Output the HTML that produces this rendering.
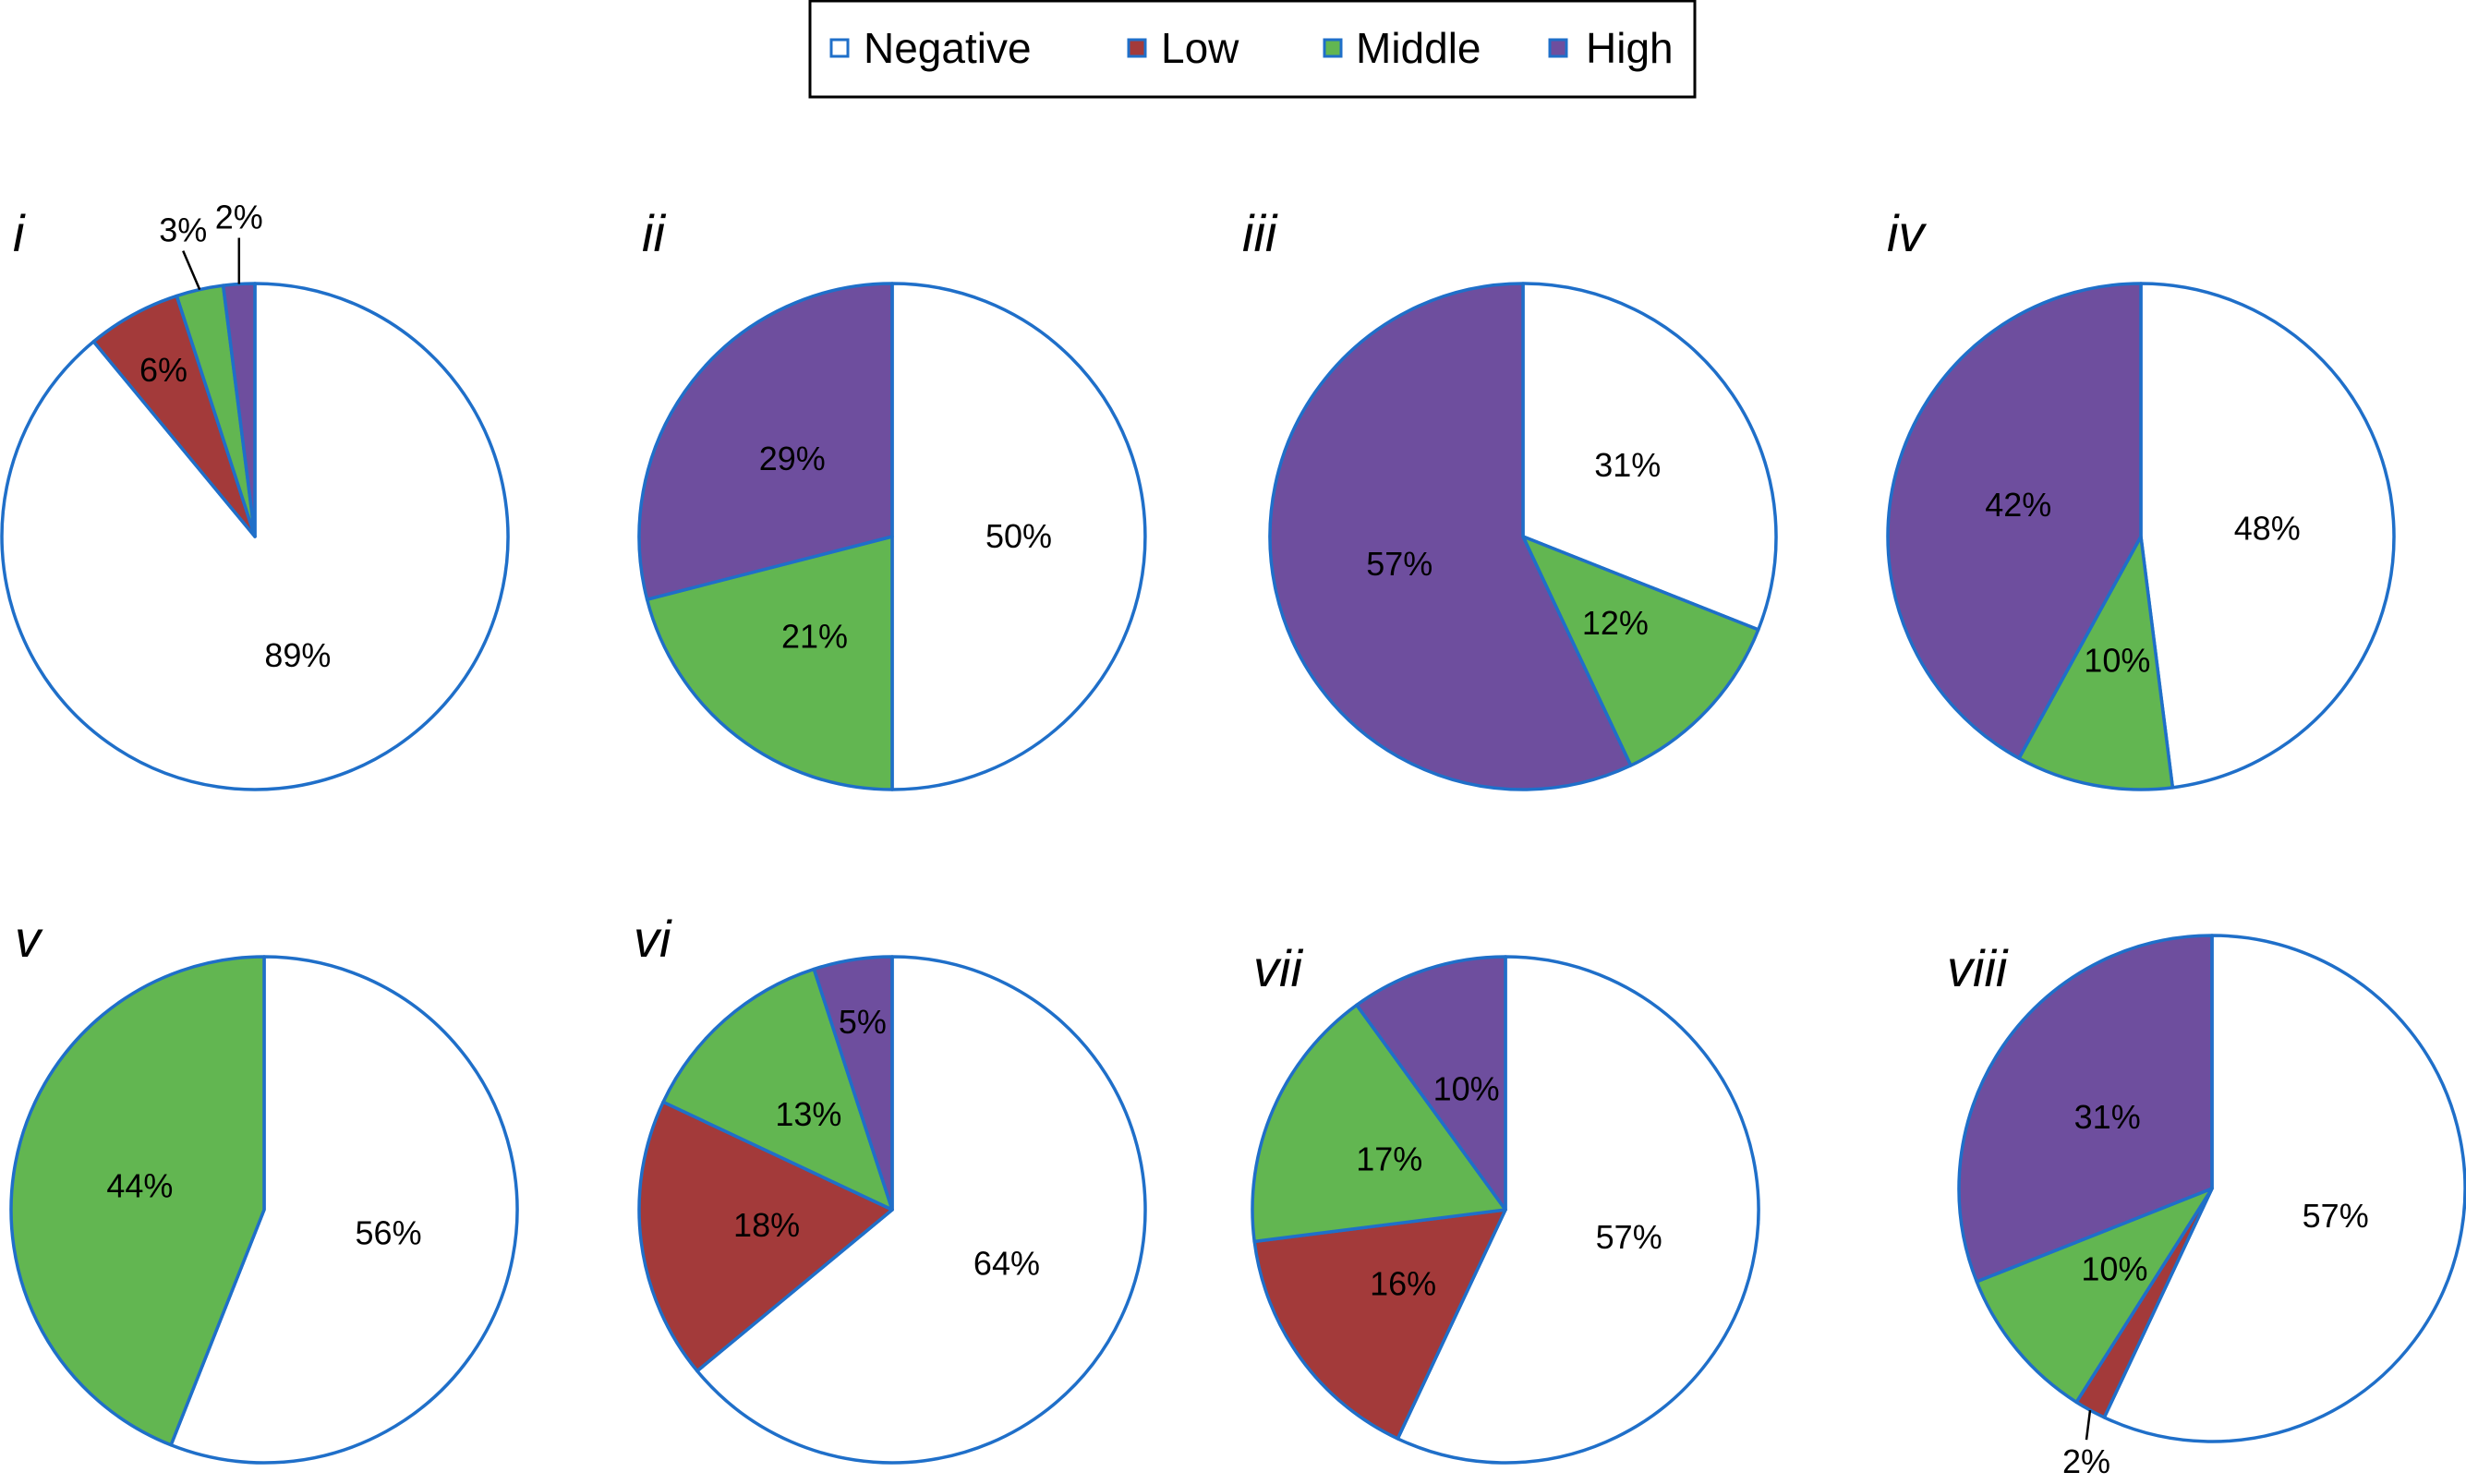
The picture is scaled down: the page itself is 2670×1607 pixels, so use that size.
<!DOCTYPE html>
<html><head><meta charset="utf-8"><style>
html,body{margin:0;padding:0;background:#fff;}
svg{display:block;font-family:"Liberation Sans",Arial,sans-serif;}
</style></head><body>
<svg id="chart" width="2670" height="1607" viewBox="0 0 2670 1607" xmlns="http://www.w3.org/2000/svg">
<g>
<rect x="877" y="1" width="958" height="104" fill="#fff" stroke="#000" stroke-width="3"/>
<rect x="900" y="43" width="18" height="18" fill="#fff" stroke="#1f6fc9" stroke-width="3"/>
<text x="935" y="68" font-size="46">Negative</text>
<rect x="1222" y="43" width="18" height="18" fill="#a33a3a" stroke="#1f6fc9" stroke-width="3"/>
<text x="1257" y="68" font-size="46">Low</text>
<rect x="1434" y="43" width="18" height="18" fill="#62b651" stroke="#1f6fc9" stroke-width="3"/>
<text x="1468" y="68" font-size="46">Middle</text>
<rect x="1678" y="43" width="18" height="18" fill="#6e4e9e" stroke="#1f6fc9" stroke-width="3"/>
<text x="1717" y="68" font-size="46">High</text>
</g>
</svg>
<script>
const panels = ["i","ii","iii","iv","v","vi","vii","viii"];
const negative = [89,50,31,48,56,64,57,57];
const low =      [6,0,0,0,0,18,16,2];
const middle =   [3,21,12,10,44,13,17,10];
const high =     [2,29,57,42,0,5,10,31];
const seriesNames = ["negative","low","middle","high"];

const colors = ["#ffffff","#a33a3a","#62b651","#6e4e9e"];
const layout = [
 {cx:276,cy:581,tx:14,ty:272},{cx:966,cy:581,tx:695,ty:272},
 {cx:1649,cy:581,tx:1345,ty:272},{cx:2318,cy:581,tx:2043,ty:272},
 {cx:286,cy:1310,tx:16,ty:1036},{cx:966,cy:1310,tx:686,ty:1036},
 {cx:1630,cy:1310,tx:1357,ty:1068},{cx:2395,cy:1287,tx:2108,ty:1068}];
const R = 274;
const NS = "http://www.w3.org/2000/svg";
const svg = document.getElementById('chart');
function mk(tag, attrs){const e=document.createElementNS(NS,tag);for(const k in attrs)e.setAttribute(k,attrs[k]);return e;}
function pt(cx,cy,r,frac){const a=frac*2*Math.PI;return [cx+r*Math.sin(a),cy-r*Math.cos(a)];}

panels.forEach((p,i)=>{
  const L=layout[i];
  const g=mk('g',{});
  
  
  svg.appendChild(g);
  const vals=[negative[i],low[i],middle[i],high[i]];
  const tot=vals.reduce((a,b)=>a+b,0);
  let acc=0;
  const outside=[];
  vals.forEach((v,s)=>{
    if(v<=0) return;
    const f0=acc/tot, f1=(acc+v)/tot; acc+=v;
    const [x0,y0]=pt(L.cx,L.cy,R,f0),[x1,y1]=pt(L.cx,L.cy,R,f1);
    const large=(f1-f0)>0.5?1:0;
    const path=mk('path',{d:`M${L.cx},${L.cy} L${x0},${y0} A${R},${R} 0 ${large} 1 ${x1},${y1} Z`,fill:colors[s],stroke:'#1f6fc9','stroke-width':3.5,'stroke-linejoin':'round'});
    
    
    g.appendChild(path);
    const mid=(f0+f1)/2;
    if(v<4){outside.push({v,mid});return;}
    const rr = v<8 ? 0.75 : 0.5;
    const [lx,ly]=pt(L.cx,L.cy,R*rr,mid);
    const t=mk('text',{x:lx,y:ly+12,'font-size':36,'text-anchor':'middle'});
    
    
    t.textContent=v+'%';
    g.appendChild(t);
  });
  outside.forEach((o,k)=>{
    const [ax,ay]=pt(L.cx,L.cy,R,o.mid);
    const down = ay>L.cy;
    let ex, ey;
    if(down){ex=ax-4;ey=ay+32;}
    else {ex=ax-18+(k*12); ey=ay-42+(k*14);}
    if(!down && k===1){ex=ax;ey=ay-50;}
    const ln=mk('line',{x1:ax,y1:ay,x2:ex,y2:ey,stroke:'#000','stroke-width':2.5});
    
    
    g.appendChild(ln);
    const t=mk('text',{x:ex,y:down?ey+36:ey-10,'font-size':36,'text-anchor':'middle'});
    
    
    t.textContent=o.v+'%';
    g.appendChild(t);
  });
  const title=mk('text',{x:L.tx,y:L.ty,'font-size':56,'font-style':'italic'});
  
  
  title.textContent=p;
  svg.appendChild(title);
});
</script>
</body></html>
